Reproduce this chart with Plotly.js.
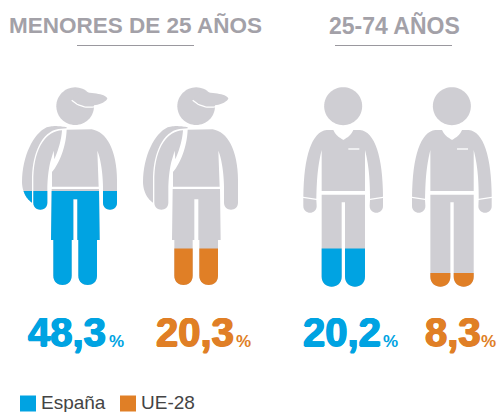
<!DOCTYPE html>
<html><head><meta charset="utf-8">
<script src="https://cdn.plot.ly/plotly-3.0.1.min.js"></script>
<style>html,body{margin:0;padding:0;background:#fff;overflow:hidden}#c{width:498px;height:412px}</style>
</head><body><div id="c"></div>
<script>
// ---- data ----
const groups = ["MENORES DE 25 AÑOS", "25-74 AÑOS"];
const seriesNames = ["España", "UE-28"];
const menores25 = [48.3, 20.3];
const entre25y74 = [20.2, 8.3];

// ---- styles ----
const GREY = "#cfced3", BLUE = "#00a3e2", ORANGE = "#e07f26", TITLE = "#a3a1a8";
const colors = [BLUE, ORANGE];

// ---- pictogram outlines, local units are 1/3 px ----
function circle(cx, cy, r) {
  const k = 0.5523 * r;
  return `M ${cx-r} ${cy} C ${cx-r} ${cy-k} ${cx-k} ${cy-r} ${cx} ${cy-r} C ${cx+k} ${cy-r} ${cx+r} ${cy-k} ${cx+r} ${cy} C ${cx+r} ${cy+k} ${cx+k} ${cy+r} ${cx} ${cy+r} C ${cx-k} ${cy+r} ${cx-r} ${cy+k} ${cx-r} ${cy} Z`;
}
const youthParts = [
  circle(225.5, 318.5, 56.5),
  "M 235 276 C 270 278 315 280 322 295 C 318 308 290 318 262 317 C 240 316 225 308 215 300 Z",
  // backpack
  "M 200 382 C 180 378 160 376 140 382 C 100 400 66 470 66 545 C 66 575 80 598 96 608 L 96 530 C 98 460 125 395 175 387 L 200 385 Z",
  // near arm
  "M 186 391 C 140 392 103 440 100 530 L 100 608 C 100 636 142 636 142 608 L 142 560 C 143 530 146 505 152 482 L 161 452 L 163 478 C 175 450 184 420 186 391 Z",
  // shirt and far arm
  "M 200 389 L 275 388 C 320 395 350 450 351 540 L 351 608 C 351 636 309 636 309 608 L 309 560 C 308 520 303 480 292 452 L 296 560 L 156 560 L 156 516 C 178 490 198 440 200 389 Z",
  // shorts
  "M 155 567 L 297 567 L 299 720 L 232 720 L 232 598 L 220 598 L 220 720 L 153 720 Z",
  // legs
  "M 160 718 L 215 718 L 215 827.5 C 215 864 160 864 160 827.5 Z",
  "M 235 718 L 291 718 L 291 827.5 C 291 864 235 864 235 827.5 Z"
];
const youthLines = [
  {w: 1.3, d: "M 215 301 C 235 320 262 325 285 320"}
];
const adultParts = [
  circle(279.5, 318.5, 57),
  // shirt with both sleeves
  "M 250 390 C 258 408 270 413 280 420 C 290 413 302 408 310 390 L 330 390 C 375 395 398 470 399 590 L 360 596 C 360 530 355 490 345 450 L 345 573 L 215 573 L 215 450 C 205 490 200 530 199 596 L 160 590 C 161 470 185 395 230 390 Z",
  // hands
  "M 360 600 L 399 594 L 399 618 C 399 645 359 645 359 618 Z",
  "M 160 594 L 199 600 L 200 618 C 200 645 160 645 160 618 Z",
  // trousers
  "M 215 584 L 345 584 L 345 830 C 345 870 285 870 285 830 L 285 607 L 275 607 L 275 830 C 275 870 215 870 215 830 Z"
];
const adultLines = [
  {w: 1.3, d: "M 295 447 L 328 447"}
];

// flatten a path string to points
function flatten(d) {
  const t = d.trim().split(/\s+/); let i = 0, out = [], cur = null;
  while (i < t.length) {
    const c = t[i++];
    if (c === "M" || c === "L") { cur = [+t[i], +t[i+1]]; i += 2; out.push(cur); }
    else if (c === "C") {
      const p = [cur, [+t[i],+t[i+1]], [+t[i+2],+t[i+3]], [+t[i+4],+t[i+5]]]; i += 6;
      for (let s = 1; s <= 16; s++) {
        const u = s/16, v = 1-u;
        out.push([0,1].map(k => v*v*v*p[0][k] + 3*v*v*u*p[1][k] + 3*v*u*u*p[2][k] + u*u*u*p[3][k]));
      }
      cur = p[3];
    }
  }
  return out;
}
// keep the part of a polygon below a horizontal level
function clipBelow(pts, level) {
  const out = [];
  for (let i = 0; i < pts.length; i++) {
    const a = pts[i], b = pts[(i+1) % pts.length], ai = a[1] >= level, bi = b[1] >= level;
    if (ai) out.push(a);
    if (ai !== bi) { const u = (level-a[1])/(b[1]-a[1]); out.push([a[0]+u*(b[0]-a[0]), level]); }
  }
  return out;
}
// share of the figure shown in colour -> height on the page
const levelOf = v => 290 - 2.05*v;

const traces = [];
function polyTrace(pts, ox, color) {
  traces.push({x: pts.map(p => p[0]/3+ox), y: pts.map(p => p[1]/3), mode: "none", fill: "toself",
    fillcolor: color, hoverinfo: "skip", showlegend: false, type: "scatter"});
}
function figure(parts, lines, ox, value, color) {
  const polys = parts.map(flatten), lvl = levelOf(value)*3;
  polys.forEach(p => polyTrace(p, ox, GREY));
  polys.forEach(p => { const c = clipBelow(p, lvl); if (c.length > 2) polyTrace(c, ox, color); });
  lines.forEach(l => { const p = flatten(l.d);
    traces.push({x: p.map(q => q[0]/3+ox), y: p.map(q => q[1]/3), mode: "lines",
      line: {color: "#fff", width: l.w}, hoverinfo: "skip", showlegend: false, type: "scatter"}); });
}
figure(youthParts, youthLines, 0, menores25[0], colors[0]);
figure(youthParts, youthLines, 121, menores25[1], colors[1]);
figure(adultParts, adultLines, 250, entre25y74[0], colors[0]);
figure(adultParts, adultLines, 358.7, entre25y74[1], colors[1]);

// legend
traces.push({x: [28, 128], y: [403.5, 403.5], mode: "markers", type: "scatter", hoverinfo: "skip", showlegend: false,
  marker: {symbol: "square", size: 16, color: colors}, cliponaxis: false});
traces.push({x: [41, 141], y: [404, 404], mode: "text", type: "scatter", hoverinfo: "skip", showlegend: false,
  text: seriesNames, textposition: "middle right",
  textfont: {family: "Liberation Sans", size: 19, color: "#444"}, cliponaxis: false});

const fmt = v => v.toFixed(1).replace(".", ",");
const num = (v, x, color) => ({x, y: 332, xref: "x", yref: "y", xanchor: "left", yanchor: "middle", showarrow: false,
  text: fmt(v),
  font: {family: "Liberation Sans", weight: 700, size: 40, color,
         shadow: `0.8px 0 0 ${color}, -0.8px 0 0 ${color}, 0 0.5px 0 ${color}, 0 -0.5px 0 ${color}`}, borderpad: 0});
const pct = (x, color) => ({x, y: 341, xref: "x", yref: "y", xanchor: "left", yanchor: "middle", showarrow: false,
  text: "%", font: {family: "Liberation Sans", weight: 700, size: 17, color}, borderpad: 0});
const head = (t, x, size) => ({x, y: 25, xref: "x", yref: "y", xanchor: "center", yanchor: "middle", showarrow: false,
  text: t, font: {family: "Liberation Sans", weight: 700, size, color: TITLE}});

const layout = {
  width: 498, height: 412, margin: {l: 0, r: 0, t: 0, b: 0}, showlegend: false,
  paper_bgcolor: "#fff", plot_bgcolor: "#fff",
  xaxis: {range: [0, 498], visible: false, fixedrange: true},
  yaxis: {range: [412, 0], visible: false, fixedrange: true},
  shapes: [[77,194],[335,452]].map(a => ({type: "line", x0: a[0], x1: a[1], y0: 45.5, y1: 45.5,
    line: {color: "#9a989e", width: 1}})),
  annotations: [
    head(groups[0], 135.5, 22.5), head(groups[1], 394.5, 23),
    num(menores25[0], 27, colors[0]), pct(107.5, colors[0]),
    num(menores25[1], 155, colors[1]), pct(235, colors[1]),
    num(entre25y74[0], 302, colors[0]), pct(382, colors[0]),
    num(entre25y74[1], 424, colors[1]), pct(480, colors[1])
  ]
};
Plotly.newPlot("c", traces, layout, {displayModeBar: false, staticPlot: true});
</script></body></html>
